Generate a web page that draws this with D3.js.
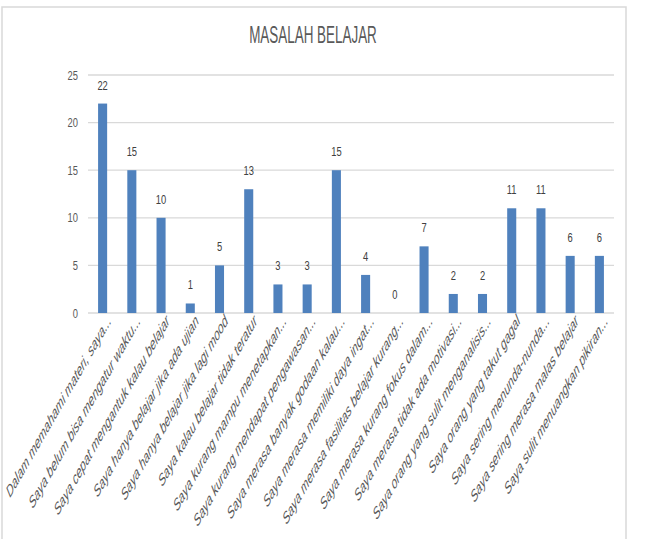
<!DOCTYPE html>
<html>
<head>
<meta charset="utf-8">
<script src="https://cdn.jsdelivr.net/npm/d3@7/dist/d3.min.js"></script>
<style>
html,body{margin:0;padding:0;background:#fff;}
svg{display:block;}
</style>
</head>
<body>
<svg id="chart" width="661" height="539"></svg>
<script>
const title = "MASALAH BELAJAR";
const categories = [
  "Dalam memahami materi, saya...",
  "Saya belum bisa mengatur waktu...",
  "Saya cepat mengantuk kalau belajar",
  "Saya hanya belajar jika ada ujian",
  "Saya hanya belajar jika lagi mood",
  "Saya kalau belajar tidak teratur",
  "Saya kurang mampu menetapkan...",
  "Saya kurang mendapat pengawasan...",
  "Saya merasa banyak godaan kalau...",
  "Saya merasa memiliki daya ingat...",
  "Saya merasa fasilitas belajar kurang...",
  "Saya merasa  kurang fokus dalam...",
  "Saya merasa tidak ada motivasi...",
  "Saya orang yang sulit menganalisis...",
  "Saya orang yang takut gagal",
  "Saya sering menunda-nunda...",
  "Saya sering merasa malas belajar",
  "Saya sulit menuangkan pikiran..."
];
const values = [22, 15, 10, 1, 5, 13, 3, 3, 15, 4, 0, 7, 2, 2, 11, 11, 6, 6];
const yTicks = [0, 5, 10, 15, 20, 25];

const svg = d3.select("#chart");
const textColor = "#595959";
const gridColor = "#d9d9d9";
const barColor = "#4f81bd";
const sx = 0.72;        // horizontal squeeze of upright text
const sRot = 0.577;     // horizontal squeeze of rotated labels

// outer border
svg.append("rect")
  .attr("x", 2).attr("y", 7).attr("width", 624).attr("height", 560)
  .attr("fill", "none").attr("stroke", gridColor).attr("stroke-width", 1.5);

const plot = {left: 88, right: 614, top: 75, bottom: 313};

const x = d3.scaleBand().domain(categories).range([plot.left, plot.right]).paddingInner(0.69).paddingOuter(0.345);
const y = d3.scaleLinear().domain([0, 25]).range([plot.bottom, plot.top]);

// gridlines
svg.append("g").selectAll("line").data(yTicks).join("line")
  .attr("x1", plot.left).attr("x2", plot.right)
  .attr("y1", d => y(d)).attr("y2", d => y(d))
  .attr("stroke", gridColor).attr("stroke-width", 1.3);

// y tick labels
svg.append("g").selectAll("text").data(yTicks).join("text")
  .attr("transform", d => `translate(78,${y(d) + 4.5}) scale(${sx},1)`)
  .attr("text-anchor", "end")
  .attr("font-family", "Liberation Sans, Arial, sans-serif")
  .attr("font-size", 13)
  .attr("fill", textColor)
  .text(d => d);

// bars
svg.append("g").selectAll("rect").data(values).join("rect")
  .attr("x", (d, i) => x(categories[i]))
  .attr("width", x.bandwidth())
  .attr("y", d => y(d))
  .attr("height", d => y(0) - y(d))
  .attr("fill", barColor);

// value labels
svg.append("g").selectAll("text").data(values).join("text")
  .attr("transform", (d, i) => `translate(${x(categories[i]) + x.bandwidth() / 2},${y(d) - 14}) scale(${sx},1)`)
  .attr("text-anchor", "middle")
  .attr("font-family", "Liberation Sans, Arial, sans-serif")
  .attr("font-size", 13)
  .attr("fill", "#404040")
  .text(d => d);

// category labels
svg.append("g").selectAll("text").data(categories).join("text")
  .attr("transform", d => `translate(${x(d) + x.bandwidth() / 2 + 9},322) scale(${sRot},1) rotate(-45)`)
  .attr("text-anchor", "end")
  .attr("font-family", "Liberation Sans, Arial, sans-serif")
  .attr("font-style", "italic")
  .attr("font-size", 17)
  .attr("fill", textColor)
  .text(d => d);

// title
svg.append("text")
  .attr("transform", `translate(313,43) scale(0.56,1)`)
  .attr("text-anchor", "middle")
  .attr("font-family", "Liberation Sans, Arial, sans-serif")
  .attr("font-size", 24)
  .attr("fill", textColor)
  .text(title);
</script>
</body>
</html>
